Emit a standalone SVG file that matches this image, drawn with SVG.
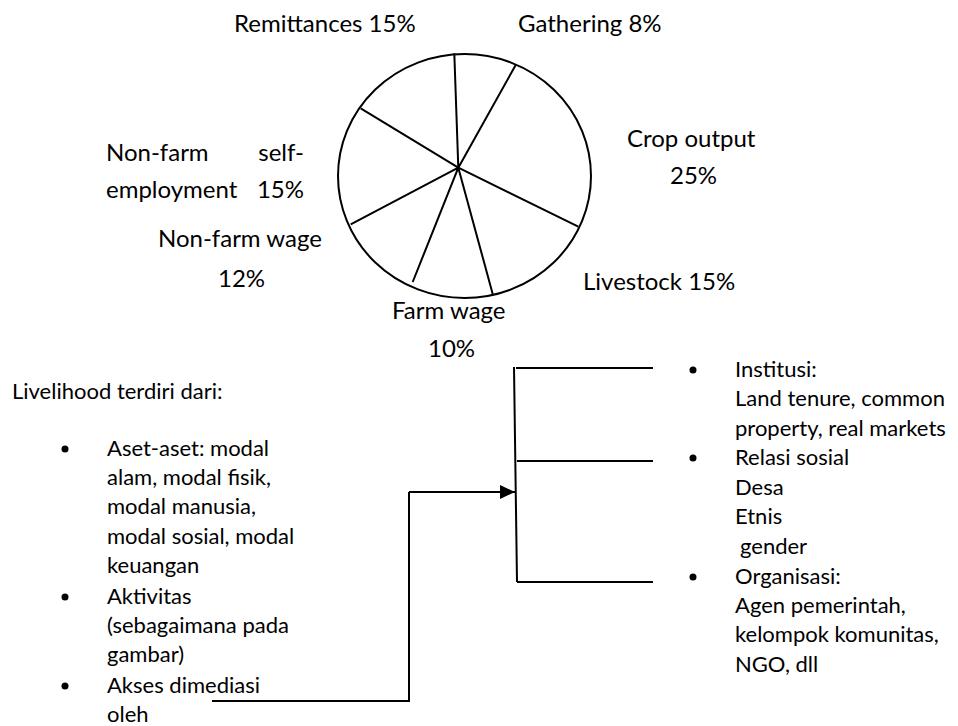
<svg xmlns="http://www.w3.org/2000/svg" width="958" height="726" viewBox="0 0 958 726">
<style>
text{font-family:Lato,"Open Sans","Liberation Sans",sans-serif;font-size:22px;fill:#000}
.pl{font-size:24px}
.ln{stroke:#000;stroke-width:2;fill:none}
</style>
<defs>
<marker id="ah" markerWidth="16" markerHeight="14" refX="15" refY="7" orient="auto" markerUnits="userSpaceOnUse">
<path d="M0,0 L15,7 L0,14 Z" fill="#000"/>
</marker>
</defs>
<rect width="958" height="726" fill="#fff"/>
<g id="pie">
<ellipse class="ln" cx="464.5" cy="176" rx="126.5" ry="122"/>
<path class="ln" d="M458.3,167.7L454.3,53.3M458.3,167.7L515.7,65M458.3,167.7L360.7,108.3M458.3,167.7L578.3,226.7M458.3,167.7L350.7,224.3M458.3,167.7L412.7,282M458.3,167.7L492.7,294"/>
</g>
<g id="pie-labels" class="pl">
<text class="pl" x="234" y="32">Remittances 15%</text>
<text class="pl" x="518" y="32">Gathering 8%</text>
<text class="pl" x="627" y="147">Crop output</text>
<text class="pl" x="670" y="184">25%</text>
<text class="pl" x="583" y="290">Livestock 15%</text>
<text class="pl" x="392" y="319">Farm wage</text>
<text class="pl" x="428" y="357">10%</text>
<text class="pl" x="106" y="161">Non-farm</text>
<text class="pl" x="304" y="161" text-anchor="end">self-</text>
<text class="pl" x="106" y="198">employment</text>
<text class="pl" x="304" y="198" text-anchor="end">15%</text>
<text class="pl" x="158" y="247">Non-farm wage</text>
<text class="pl" x="218" y="287">12%</text>
</g>
<g id="livelihood">
<text x="12" y="399">Livelihood terdiri dari:</text>
<circle cx="65" cy="449" r="3.5"/>
<circle cx="65" cy="597" r="3.5"/>
<circle cx="65" cy="686" r="3.5"/>
<text x="107" y="456">Aset-aset: modal</text>
<text x="107" y="485">alam, modal fisik,</text>
<text x="107" y="514">modal manusia,</text>
<text x="107" y="544">modal sosial, modal</text>
<text x="107" y="573">keuangan</text>
<text x="107" y="604">Aktivitas</text>
<text x="107" y="633">(sebagaimana pada</text>
<text x="107" y="662">gambar)</text>
<text x="107" y="693">Akses dimediasi</text>
<text x="107" y="722">oleh</text>
</g>
<g id="access">
<circle cx="693" cy="370" r="3.5"/>
<circle cx="693" cy="458" r="3.5"/>
<circle cx="693" cy="577" r="3.5"/>
<text x="735" y="377">Institusi:</text>
<text x="735" y="406">Land tenure, common</text>
<text x="735" y="436">property, real markets</text>
<text x="735" y="465">Relasi sosial</text>
<text x="735" y="495">Desa</text>
<text x="735" y="524">Etnis</text>
<text x="740" y="554">gender</text>
<text x="735" y="584">Organisasi:</text>
<text x="735" y="613">Agen pemerintah,</text>
<text x="735" y="642">kelompok komunitas,</text>
<text x="735" y="672">NGO, dll</text>
</g>
<g id="connectors">
<path class="ln" d="M212,701H409V492"/>
<path class="ln" d="M409,492H515" marker-end="url(#ah)"/>
<path class="ln" d="M514,367L517,582"/>
<path class="ln" d="M516,368H653M517,461H653M517,582H653"/>
</g>
</svg>
